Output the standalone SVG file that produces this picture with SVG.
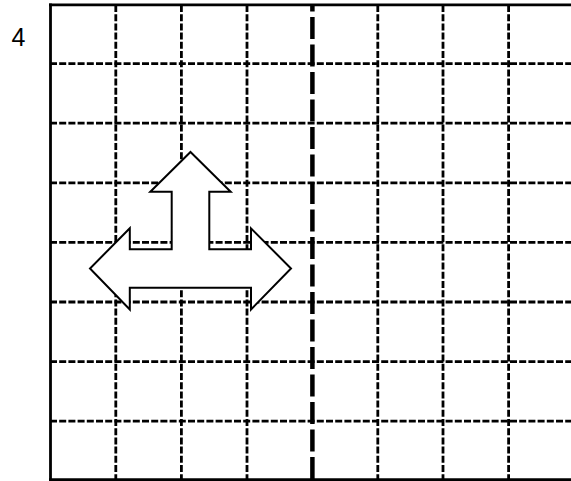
<svg xmlns="http://www.w3.org/2000/svg" width="571" height="481" viewBox="0 0 571 481">
  <style>
    .thin { stroke: #000; stroke-width: 2.8; stroke-dasharray: 7 2.2; fill: none; }
    .thick { stroke: #000; stroke-width: 4.5; stroke-dasharray: 22 5.5; stroke-dashoffset: 15.5; fill: none; }
    .border { stroke: #000; stroke-width: 2.8; fill: none; }
    .arrow { fill: #fff; stroke: #000; stroke-width: 2; stroke-linejoin: miter; }
    .label { font-family: "Liberation Sans", Arial, sans-serif; font-size: 25px; fill: #000; }
  </style>
  <rect width="571" height="481" fill="#fff"/>
  <g id="grid">
    <g id="h-lines">
      <line class="thin" x1="50" y1="63.6" x2="571" y2="63.6"/>
      <line class="thin" x1="50" y1="123.2" x2="571" y2="123.2"/>
      <line class="thin" x1="50" y1="182.8" x2="571" y2="182.8"/>
      <line class="thin" x1="50" y1="242.4" x2="571" y2="242.4"/>
      <line class="thin" x1="50" y1="302" x2="571" y2="302"/>
      <line class="thin" x1="50" y1="361.6" x2="571" y2="361.6"/>
      <line class="thin" x1="50" y1="421.2" x2="571" y2="421.2"/>
    </g>
    <g id="v-lines">
      <line class="thin" x1="115.8" y1="5" x2="115.8" y2="480"/>
      <line class="thin" x1="181.4" y1="5" x2="181.4" y2="480"/>
      <line class="thin" x1="247" y1="5" x2="247" y2="480"/>
      <line class="thick" x1="312.4" y1="5" x2="312.4" y2="480"/>
      <line class="thin" x1="377.8" y1="5" x2="377.8" y2="480"/>
      <line class="thin" x1="443" y1="5" x2="443" y2="480"/>
      <line class="thin" x1="508.6" y1="5" x2="508.6" y2="480"/>
    </g>
    <g id="borders">
      <line class="border" x1="50.5" y1="3.5" x2="50.5" y2="481"/>
      <line class="border" x1="49" y1="4.8" x2="571" y2="4.8"/>
      <line class="border" x1="49" y1="479.6" x2="571" y2="479.6"/>
    </g>
  </g>
  <g id="label-4">
    <text class="label" x="11.5" y="46">4</text>
  </g>
  <g id="t-arrow">
    <polygon class="arrow" points="190.5,152 230.7,191.7 209.3,191.7 209.3,249.3 251,249.3 251,228.3 291,268.5 251,309.5 251,287.7 129.8,287.7 129.8,309.5 90,268.5 129.8,228.3 129.8,249.3 171.7,249.3 171.7,191.7 150.3,191.7"/>
  </g>
</svg>
